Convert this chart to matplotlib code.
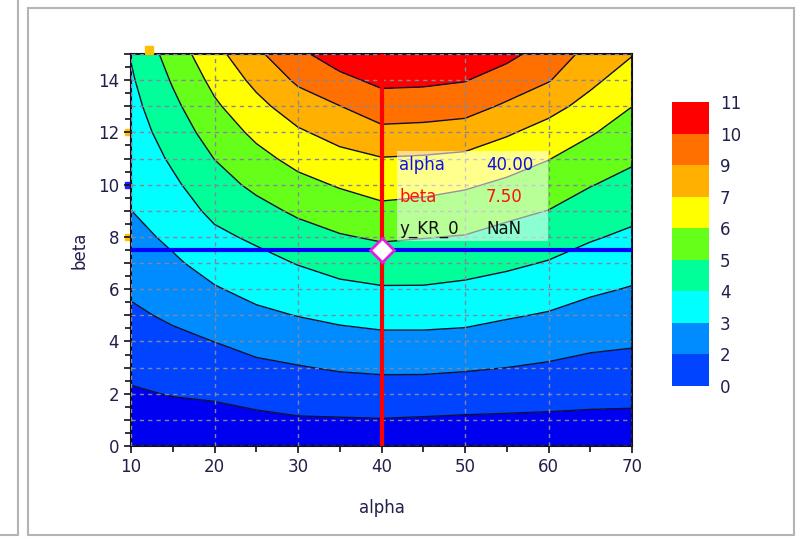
import matplotlib
matplotlib.use("Agg")
import matplotlib.pyplot as plt
import numpy as np
from matplotlib.colors import ListedColormap, BoundaryNorm
from matplotlib.patches import Rectangle
from matplotlib.ticker import MultipleLocator, FuncFormatter
import matplotlib.cm as cm

# grid of values (rows = beta, columns = alpha)
alpha = [10, 15, 20, 25, 30, 35, 40, 45, 50, 55, 60, 65, 70]
beta = [0, 1, 2, 3, 4, 5, 6, 7, 8, 9, 10, 11, 12, 13, 14, 15]
z_rows = [
    [-0.46, -0.42, -0.48, -0.41, -0.30, -0.35, -0.35, -0.43, -0.45, -0.44, -0.41, -0.36, -0.34],
    [-0.09, 0.01, 0.04, 0.18, 0.31, 0.33, 0.36, 0.31, 0.26, 0.23, 0.21, 0.18, 0.17],
    [0.28, 0.45, 0.55, 0.76, 0.91, 1.01, 1.07, 1.05, 0.98, 0.91, 0.82, 0.73, 0.69],
    [0.65, 0.88, 1.07, 1.35, 1.52, 1.69, 1.77, 1.77, 1.69, 1.58, 1.44, 1.27, 1.20],
    [1.02, 1.32, 1.59, 1.94, 2.15, 2.34, 2.46, 2.46, 2.40, 2.22, 2.06, 1.82, 1.71],
    [1.39, 1.75, 2.13, 2.54, 2.79, 3.01, 3.15, 3.15, 3.08, 2.86, 2.67, 2.37, 2.20],
    [1.74, 2.17, 2.67, 3.08, 3.39, 3.68, 3.84, 3.84, 3.72, 3.51, 3.27, 2.93, 2.69],
    [2.08, 2.59, 3.19, 3.58, 3.99, 4.35, 4.54, 4.50, 4.35, 4.14, 3.87, 3.49, 3.20],
    [2.41, 2.99, 3.70, 4.13, 4.65, 5.03, 5.26, 5.16, 5.07, 4.75, 4.48, 4.05, 3.73],
    [2.75, 3.36, 4.20, 4.76, 5.31, 5.71, 6.03, 5.92, 5.71, 5.40, 5.10, 4.61, 4.25],
    [2.96, 3.74, 4.67, 5.37, 5.97, 6.40, 6.75, 6.65, 6.45, 6.09, 5.72, 5.17, 4.77],
    [3.17, 4.11, 5.14, 5.96, 6.64, 7.14, 7.43, 7.36, 7.23, 6.83, 6.34, 5.78, 5.28],
    [3.38, 4.48, 5.63, 6.55, 7.33, 7.89, 8.39, 8.32, 8.17, 7.61, 7.05, 6.40, 5.79],
    [3.59, 4.85, 6.12, 7.15, 8.08, 8.64, 9.26, 9.21, 9.08, 8.50, 7.85, 7.10, 6.31],
    [3.80, 5.23, 6.61, 7.77, 8.85, 9.55, 10.11, 10.06, 9.89, 9.32, 8.73, 7.73, 6.92],
    [4.01, 5.65, 7.10, 8.42, 9.60, 10.42, 11.00, 10.94, 10.75, 10.14, 9.35, 8.30, 7.54],
]

levels = [0.40, 1.58, 2.76, 3.94, 5.12, 6.30, 7.48, 8.66, 9.84, 11.02]
level_labels = ["0", "2", "3", "4", "5", "6", "7", "9", "10", "11"]
band_colors = ["#0044ff", "#008cff", "#00ffff", "#00ff99", "#66ff1a",
               "#ffff00", "#ffb000", "#ff7000", "#ff0000"]
under_color = "#0000f0"

cursor_alpha = 40.0
cursor_beta = 7.5
readout_names = ["alpha", "beta", "y_KR_0"]
readout_values = ["40.00", "7.50", "NaN"]
readout_colors = ["#1010e0", "#ff1010", "#101010"]

TXT = "#20204a"

fig = plt.figure(figsize=(8.08, 5.41), dpi=100)
fig.patch.set_facecolor("white")

# panel frames
fig.patches.append(Rectangle((28 / 808, 6 / 541), 766 / 808, 527 / 541,
                             transform=fig.transFigure, fill=False,
                             ec="#b4b4b4", lw=1.5))
fig.patches.append(Rectangle((-10 / 808, 6 / 541), 28 / 808, 560 / 541,
                             transform=fig.transFigure, fill=False,
                             ec="#b4b4b4", lw=1.5))

ax = fig.add_axes([131 / 808, 95 / 541, 501 / 808, 392 / 541])

cmap = ListedColormap(band_colors)
cmap.set_under(under_color)
cmap.set_over(band_colors[-1])
norm = BoundaryNorm(levels, cmap.N)

A, B = np.meshgrid(alpha, beta)
Z = np.array(z_rows)
ax.contourf(A, B, Z, levels=levels, cmap=cmap, norm=norm, extend="both")
ax.contour(A, B, Z, levels=levels, colors="#101030", linewidths=1.0)

ax.set_xlim(10, 70)
ax.set_ylim(0, 15)
ax.xaxis.set_major_locator(MultipleLocator(10))
ax.xaxis.set_minor_locator(MultipleLocator(5))
ax.yaxis.set_major_locator(MultipleLocator(1))
ax.yaxis.set_minor_locator(MultipleLocator(0.5))
ax.yaxis.set_major_formatter(FuncFormatter(lambda v, p: f"{int(v)}" if int(v) % 2 == 0 else ""))
ax.grid(True, which="major", color="#85859c", ls=(0, (3, 3)), lw=1)
ax.set_axisbelow(False)
ax.tick_params(which="both", direction="out", colors="#101020", labelcolor=TXT,
               labelsize=12, width=1.2)
ax.tick_params(which="major", length=5)
ax.tick_params(which="minor", length=4)
for s in ax.spines.values():
    s.set_color("#101020")
    s.set_linewidth(1.5)
ax.set_xlabel("alpha", fontsize=12, color=TXT, labelpad=17)
ax.set_ylabel("beta", fontsize=12, color=TXT, labelpad=7)

# small slider handles on the axis edges
ax.plot([12.2], [15.15], marker="s", ms=6, color="#ffc000", clip_on=False, zorder=4)
ax.plot([9.6, 9.6], [12, 8], ls="none", marker="s", ms=5, color="#ffc000",
        clip_on=False, zorder=1)
ax.plot([9.6], [10], marker="s", ms=4, color="#2020ff", clip_on=False, zorder=1)

# crosshair cursor
ax.axvline(cursor_alpha, color="#ff0000", lw=3, zorder=5)
ax.axhline(cursor_beta, color="#0000ff", lw=3, zorder=5)
ax.plot([cursor_alpha], [cursor_beta], marker="D", ms=12, mfc="white",
        mec="#e020e0", mew=2, zorder=6, clip_on=False)

# readout box
box = Rectangle((41.8, 7.85), 18.1, 3.45, facecolor="white", alpha=0.55,
                edgecolor="none", zorder=7)
ax.add_patch(box)
for i, (n, v, c) in enumerate(zip(readout_names, readout_values, readout_colors)):
    yy = 10.75 - i * 1.22
    ax.text(42.1, yy, n, color=c, fontsize=12, va="center", ha="left", zorder=8)
    ax.text(52.5, yy, v, color=c, fontsize=12, va="center", ha="left", zorder=8)

# colour bar
cax = fig.add_axes([672 / 808, 155 / 541, 37 / 808, 284 / 541])
sm = cm.ScalarMappable(cmap=cmap, norm=norm)
cb = fig.colorbar(sm, cax=cax, ticks=levels, spacing="uniform")
cb.outline.set_visible(False)
cb.ax.set_yticklabels(level_labels)
cb.ax.tick_params(length=0, labelsize=12, labelcolor=TXT, pad=8)

fig.savefig("out.png", dpi=100)
